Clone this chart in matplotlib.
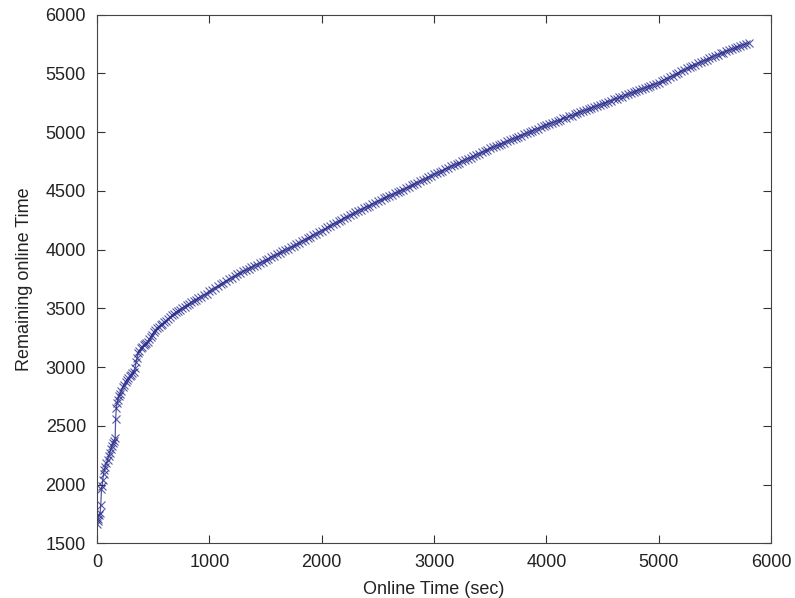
import matplotlib
matplotlib.use("Agg")
import matplotlib.pyplot as plt

# Datos: tramo inicial (muestreo irregular)
tiempo_ini = [0, 6, 12, 20, 28, 34, 40, 46, 52, 58, 66, 74, 84, 94, 104, 114, 124, 134, 144, 154,
              162, 166, 172, 178, 186, 196, 206, 218, 230, 242, 254, 266, 278, 290, 302, 314, 326, 338, 348, 358,
              368, 378, 390, 402, 414, 426, 438, 450, 464, 478, 492, 506, 520, 534, 550, 566, 582, 598, 614, 630,
              648, 666, 684, 702, 720, 740, 760, 780, 800, 820, 840, 860, 880, 900, 925, 950, 975]
restante_ini = [1665, 1690, 1710, 1740, 1760, 1830, 1960, 1990, 2040, 2090, 2120, 2150, 2180, 2210, 2240, 2270, 2300, 2330, 2350, 2370,
                2400, 2560, 2650, 2690, 2720, 2750, 2775, 2800, 2830, 2850, 2870, 2890, 2905, 2920, 2935, 2950, 2960, 2990, 3040, 3080,
                3120, 3140, 3160, 3175, 3185, 3195, 3205, 3215, 3235, 3255, 3275, 3295, 3315, 3335, 3345, 3360, 3370, 3385, 3395, 3410,
                3425, 3440, 3455, 3465, 3480, 3490, 3505, 3515, 3525, 3540, 3550, 3565, 3575, 3585, 3600, 3615, 3625]

# Tramo principal (cada 25 s)
tiempo_fin = [1000, 1025, 1050, 1075, 1100, 1125, 1150, 1175, 1200, 1225,
              1250, 1275, 1300, 1325, 1350, 1375, 1400, 1425, 1450, 1475,
              1500, 1525, 1550, 1575, 1600, 1625, 1650, 1675, 1700, 1725,
              1750, 1775, 1800, 1825, 1850, 1875, 1900, 1925, 1950, 1975,
              2000, 2025, 2050, 2075, 2100, 2125, 2150, 2175, 2200, 2225,
              2250, 2275, 2300, 2325, 2350, 2375, 2400, 2425, 2450, 2475,
              2500, 2525, 2550, 2575, 2600, 2625, 2650, 2675, 2700, 2725,
              2750, 2775, 2800, 2825, 2850, 2875, 2900, 2925, 2950, 2975,
              3000, 3025, 3050, 3075, 3100, 3125, 3150, 3175, 3200, 3225,
              3250, 3275, 3300, 3325, 3350, 3375, 3400, 3425, 3450, 3475,
              3500, 3525, 3550, 3575, 3600, 3625, 3650, 3675, 3700, 3725,
              3750, 3775, 3800, 3825, 3850, 3875, 3900, 3925, 3950, 3975,
              4000, 4025, 4050, 4075, 4100, 4125, 4150, 4175, 4200, 4225,
              4250, 4275, 4300, 4325, 4350, 4375, 4400, 4425, 4450, 4475,
              4500, 4525, 4550, 4575, 4600, 4625, 4650, 4675, 4700, 4725,
              4750, 4775, 4800, 4825, 4850, 4875, 4900, 4925, 4950, 4975,
              5000, 5025, 5050, 5075, 5100, 5125, 5150, 5175, 5200, 5225,
              5250, 5275, 5300, 5325, 5350, 5375, 5400, 5425, 5450, 5475,
              5500, 5525, 5550, 5575, 5600, 5625, 5650, 5675, 5700, 5725,
              5750, 5775, 5800]
restante_fin = [3648, 3660, 3677, 3689, 3706, 3718, 3735, 3746, 3762, 3775,
                3790, 3800, 3815, 3824, 3839, 3850, 3864, 3873, 3888, 3898,
                3912, 3921, 3936, 3947, 3960, 3970, 3985, 3995, 4009, 4018,
                4032, 4044, 4058, 4070, 4085, 4096, 4111, 4122, 4137, 4148,
                4162, 4173, 4189, 4200, 4215, 4226, 4241, 4252, 4268, 4278,
                4292, 4302, 4317, 4327, 4341, 4352, 4366, 4375, 4390, 4399,
                4413, 4422, 4435, 4444, 4457, 4466, 4479, 4488, 4501, 4510,
                4523, 4533, 4547, 4556, 4571, 4580, 4595, 4604, 4619, 4628,
                4642, 4651, 4664, 4673, 4686, 4695, 4708, 4717, 4730, 4739,
                4752, 4761, 4774, 4783, 4796, 4805, 4818, 4827, 4840, 4849,
                4862, 4870, 4882, 4890, 4902, 4910, 4922, 4930, 4942, 4950,
                4962, 4970, 4982, 4990, 5002, 5010, 5022, 5030, 5042, 5050,
                5062, 5069, 5080, 5087, 5098, 5105, 5116, 5123, 5134, 5141,
                5152, 5159, 5170, 5177, 5188, 5195, 5206, 5213, 5224, 5231,
                5242, 5249, 5260, 5267, 5278, 5285, 5296, 5303, 5314, 5321,
                5332, 5339, 5350, 5357, 5368, 5375, 5386, 5393, 5404, 5411,
                5422, 5432, 5446, 5456, 5470, 5480, 5494, 5504, 5518, 5528,
                5542, 5551, 5564, 5573, 5586, 5595, 5608, 5617, 5630, 5639,
                5652, 5659, 5670, 5677, 5688, 5695, 5706, 5713, 5724, 5731,
                5742, 5750, 5758]

x_ticks = [0, 1000, 2000, 3000, 4000, 5000, 6000]
y_ticks = [1500, 2000, 2500, 3000, 3500, 4000, 4500, 5000, 5500, 6000]

plt.rcParams['font.family'] = ['Liberation Sans', 'DejaVu Sans']

fig = plt.figure(figsize=(7.95, 5.98), dpi=100)
ax = fig.add_axes([0.122, 0.0915, 0.848, 0.884])

tiempo = tiempo_ini + tiempo_fin
restante = restante_ini + restante_fin
ax.plot(tiempo, restante, color="#2b2d8e", linewidth=0.9, marker="x",
        markersize=5.5, markeredgewidth=0.8, alpha=0.8)

ax.set_xlim(0, 6000)
ax.set_ylim(1500, 6000)
ax.set_xticks(x_ticks)
ax.set_yticks(y_ticks)
ax.tick_params(direction="in", top=True, right=True, labelsize=13, length=6,
               width=0.8, colors="#333333", labelcolor="#222222")
ax.tick_params(axis="x", pad=8)
ax.tick_params(axis="y", pad=8)
for lado in ax.spines.values():
    lado.set_linewidth(0.8)
    lado.set_color("#444444")

ax.set_xlabel("Online Time (sec)", fontsize=13, labelpad=7, color="#222222")
ax.set_ylabel("Remaining online Time", fontsize=13, labelpad=9, color="#222222")

plt.savefig("out.png", dpi=100)
